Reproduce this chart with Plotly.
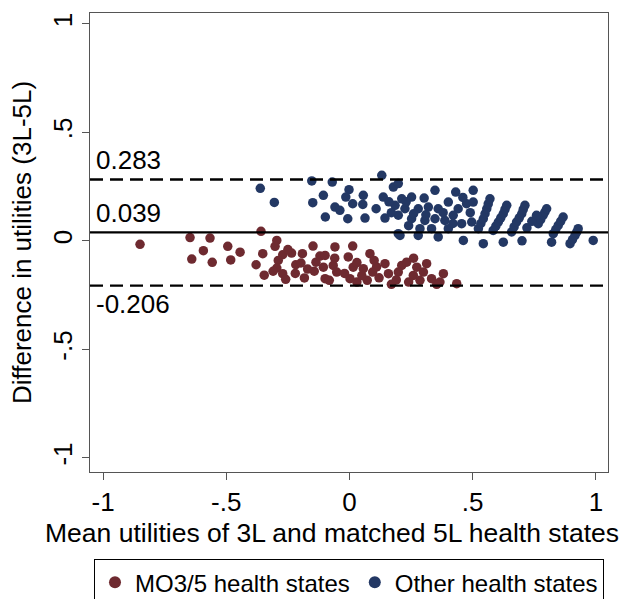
import plotly.graph_objects as go

# MO3/5 health states (mean utility, difference)
mo_x = [-0.85, -0.647, -0.566, -0.593, -0.64, -0.557, -0.494, -0.482, -0.444, -0.359,
        -0.379, -0.346, -0.295, -0.302, -0.352, -0.271, -0.235, -0.191, -0.148, -0.289,
        -0.295, -0.271, -0.259, -0.218, -0.197, -0.183, -0.136, -0.12, -0.143, -0.106,
        -0.099, -0.059, 0.013, -0.099, -0.005, 0.083, -0.066, -0.052, 0.015, 0.056,
        0.094, 0.144, 0.158, 0.002, -0.082, 0.072, 0.17, 0.212, 0.232, 0.198,
        0.273, 0.259, 0.313, 0.3, 0.286, 0.381, 0.367, 0.354, 0.435, 0.333,
        -0.25, -0.06, 0.03, 0.11, 0.12, 0.03, -0.02, 0.19, 0.24, -0.17,
        -0.22, 0.05, -0.31, 0.1, 0.26]
mo_y = [-0.016, 0.015, 0.013, -0.045, -0.084, -0.099, -0.025, -0.088, -0.052, 0.044,
        -0.11, -0.158, 0.002, -0.025, -0.059, -0.064, -0.056, -0.059, -0.024, -0.09,
        -0.125, -0.151, -0.177, -0.11, -0.102, -0.171, -0.098, -0.07, -0.14, -0.121,
        -0.174, -0.028, -0.024, -0.067, -0.074, -0.059, -0.113, -0.144, -0.121, -0.128,
        -0.144, -0.105, -0.151, -0.174, -0.182, -0.182, -0.2, -0.113, -0.098, -0.144,
        -0.121, -0.159, -0.105, -0.144, -0.182, -0.151, -0.19, -0.2, -0.197, -0.174,
        -0.04, -0.08, -0.1, -0.12, -0.17, -0.19, -0.15, -0.18, -0.19, -0.13,
        -0.15, -0.16, -0.14, -0.09, -0.08]

# Other health states
ot_x = [-0.153, -0.362, -0.305, -0.149, -0.106, -0.07, 0.131, -0.002, -0.015, 0.013,
        0.056, 0.054, -0.059, -0.039, -0.098, -0.007, 0.063, 0.108, 0.137, 0.144,
        0.178, 0.185, 0.198, 0.198, 0.347, 0.431, 0.212, 0.252, 0.303, 0.225,
        0.279, 0.32, 0.36, 0.401, 0.441, 0.475, 0.198, 0.252, 0.306, 0.347,
        0.387, 0.421, 0.455, 0.496, 0.205, 0.279, 0.36, 0.462, 0.286, 0.333,
        0.401, 0.502, 0.502, 0.543,
        0.523, 0.533, 0.543, 0.55, 0.557, 0.563, 0.57,
        0.583, 0.594, 0.604, 0.614, 0.624, 0.631, 0.638,
        0.658, 0.668, 0.678, 0.689, 0.699, 0.705, 0.712,
        0.766, 0.776, 0.786, 0.793, 0.8, 0.72, 0.74, 0.759,
        0.827, 0.837, 0.847, 0.857, 0.867,
        0.895, 0.905, 0.915, 0.922, 0.928,
        0.989, 0.82, 0.624, 0.70,
        0.24, 0.23, 0.16, 0.17, 0.38, 0.46, 0.49, 0.42, 0.26, 0.31]
ot_y = [0.276, 0.242, 0.177, 0.176, 0.21, 0.271, 0.302, 0.236, 0.202, 0.171,
        0.21, 0.168, 0.156, 0.141, 0.11, 0.102, 0.105, 0.148, 0.202, 0.105,
        0.248, 0.164, 0.033, 0.264, 0.233, 0.225, 0.194, 0.202, 0.197, 0.148,
        0.148, 0.156, 0.148, 0.179, 0.148, 0.171, 0.118, 0.102, 0.094, 0.102,
        0.094, 0.118, 0.079, 0.087, 0.025, 0.025, 0.018, 0.002, 0.056, 0.056,
        0.056, 0.233, 0.179, -0.013,
        0.056, 0.08, 0.102, 0.125, 0.148, 0.17, 0.194,
        0.048, 0.068, 0.087, 0.106, 0.125, 0.145, 0.164,
        0.041, 0.064, 0.087, 0.106, 0.125, 0.145, 0.164,
        0.079, 0.098, 0.118, 0.133, 0.148, 0.06, 0.09, 0.118,
        0.033, 0.052, 0.071, 0.09, 0.11,
        -0.013, 0.006, 0.025, 0.04, 0.056,
        0.002, -0.006, -0.006, 0.0,
        0.07, 0.18, 0.18, 0.13, 0.13, 0.2, 0.13, 0.08, 0.125, 0.12]

mean_diff = 0.039
upper_loa = 0.283
lower_loa = -0.206

x_ticks = [-1, -0.5, 0, 0.5, 1]
x_labels = ["-1", "-.5", "0", ".5", "1"]
y_ticks = [-1, -0.5, 0, 0.5, 1]
y_labels = ["-1", "-.5", "0", ".5", "1"]

x_title = "Mean utilities of 3L and matched 5L health states"
y_title = "Difference in utilities (3L-5L)"

RED = "#6e2a30"
BLUE = "#233864"
FONT = "Liberation Sans, Arial, sans-serif"
FS = 26

fig = go.Figure()
fig.add_trace(go.Scatter(x=mo_x, y=mo_y, mode="markers", name="MO3/5 health states",
                         marker=dict(color=RED, size=9.5, line=dict(width=0))))
fig.add_trace(go.Scatter(x=ot_x, y=ot_y, mode="markers", name="Other health states",
                         marker=dict(color=BLUE, size=9.5, line=dict(width=0))))

for val, dash in [(upper_loa, "13px,7px"), (mean_diff, "solid"), (lower_loa, "13px,7px")]:
    fig.add_shape(type="line", xref="paper", x0=0, x1=1, yref="y", y0=val, y1=val,
                  line=dict(color="black", width=2.4, dash=dash), layer="above")

for val, anchor, shift in [(upper_loa, "bottom", 2), (mean_diff, "bottom", 2), (lower_loa, "top", -1)]:
    fig.add_annotation(x=-1.035, y=val, xref="x", yref="y", text=f"{val:.3f}",
                       showarrow=False, xanchor="left", yanchor=anchor, yshift=shift,
                       font=dict(size=FS, color="black", family=FONT))

# x-axis title, centred a little left of the plot centre as in the reference
fig.add_annotation(x=0.467, y=0, xref="paper", yref="paper", text=x_title,
                   showarrow=False, xanchor="center", yanchor="top", yshift=-44,
                   font=dict(size=26.5, color="black", family=FONT))

fig.update_layout(
    width=635, height=599,
    margin=dict(l=90, r=27, t=13, b=127, autoexpand=False),
    paper_bgcolor="white", plot_bgcolor="white",
    font=dict(family=FONT, size=FS, color="black"),
    showlegend=True,
    legend=dict(orientation="h", x=0.5, xanchor="center", y=-0.19, yanchor="top",
                bordercolor="black", borderwidth=1, font=dict(size=24),
                itemsizing="constant", tracegroupgap=0, itemwidth=30),
)
fig.update_xaxes(range=[-1.053, 1.049], tickvals=x_ticks, ticktext=x_labels,
                 showgrid=False, zeroline=False, showline=True, mirror=True,
                 linecolor="#555555", linewidth=1, ticks="outside", ticklen=7,
                 tickcolor="#555555", tickfont=dict(size=FS))
fig.update_yaxes(range=[-1.065, 1.05], tickvals=y_ticks, ticktext=y_labels, tickangle=-90,
                 showgrid=False, zeroline=False, showline=True, mirror=True,
                 linecolor="#555555", linewidth=1, ticks="outside", ticklen=7,
                 tickcolor="#555555", tickfont=dict(size=FS),
                 title=dict(text=y_title, font=dict(size=FS), standoff=8))

fig.write_html("out.html", config={"displayModeBar": False},
               post_script="document.body.style.margin='0';document.body.style.overflow='hidden';")
